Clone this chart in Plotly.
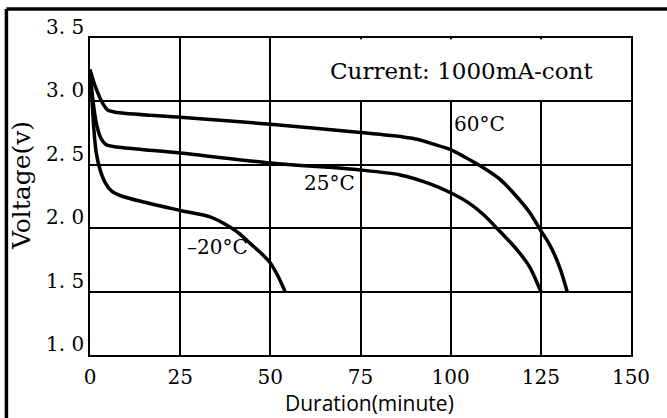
import plotly.graph_objects as go

# ---- data ----
t60 = [0, 1.7, 3.6, 5.0, 6.9, 25, 50, 75, 86.8, 91, 95, 100, 104, 108.3, 113.7, 118.4, 122, 124.8, 127.5, 130.3, 132.3]
v60 = [3.25, 3.10, 2.98, 2.93, 2.915, 2.875, 2.82, 2.755, 2.72, 2.70, 2.665, 2.62, 2.56, 2.49, 2.385, 2.246, 2.12, 1.99, 1.867, 1.686, 1.50]

t25 = [0, 0.8, 1.9, 3.0, 4.4, 7.5, 25, 50, 75, 86, 94.3, 100, 105, 109, 112.8, 118.4, 122, 125]
v25 = [3.25, 3.01, 2.81, 2.71, 2.66, 2.64, 2.593, 2.514, 2.459, 2.42, 2.35, 2.28, 2.20, 2.11, 2.0, 1.83, 1.69, 1.50]

tm20 = [0, 0.55, 1.1, 1.7, 2.8, 4.2, 6.1, 9.1, 25, 33.3, 38.8, 41.6, 44.4, 47.1, 50, 52.1, 54.1]
vm20 = [3.25, 3.01, 2.77, 2.60, 2.46, 2.36, 2.29, 2.25, 2.14, 2.09, 2.01, 1.954, 1.88, 1.812, 1.726, 1.623, 1.50]

x_ticks = [0, 25, 50, 75, 100, 125, 150]
x_tick_text = ["0", "25", "50", "75", "100", "125", "150"]
y_ticks = [1.0, 1.5, 2.0, 2.5, 3.0, 3.5]
y_tick_text = ["1. 0", "1. 5", "2. 0", "2. 5", "3. 0", "3. 5"]

series = [("60°C", t60, v60), ("25°C", t25, v25), ("–20°C", tm20, vm20)]
labels = [("60°C", 100.5, 2.82), ("25°C", 58.8, 2.355), ("–20°C", 26.3, 1.85)]
note = "Current: 1000mA-cont"

SERIF = "DejaVu Serif"

fig = go.Figure()
for name, t, v in series:
    fig.add_trace(go.Scatter(x=t, y=v, mode="lines", name=name,
                             line=dict(color="black", width=3.5, shape="spline", smoothing=0.8)))

# blank out gridlines inside the "Current" box (top row, right part)
fig.add_shape(type="rect", x0=50.4, x1=149.6, y0=3.012, y1=3.49, layer="between",
              fillcolor="white", line=dict(width=0))

# outer frame of the picture (top and left edges)
fig.add_shape(type="line", xref="paper", yref="paper", x0=-0.1545, x1=1.2, y0=1.0915, y1=1.0915,
              line=dict(color="black", width=3.5))
fig.add_shape(type="line", xref="paper", yref="paper", x0=-0.1545, x1=-0.1545, y0=1.0915, y1=-0.3,
              line=dict(color="black", width=3.5))

fig.add_annotation(x=103, y=3.24, text=note, showarrow=False,
                   font=dict(family=SERIF, size=23, color="black"))
for txt, x, y in labels:
    fig.add_annotation(x=x, y=y, text=txt, showarrow=False, xanchor="left",
                       font=dict(family=SERIF, size=20, color="black"))

# y tick labels (sit slightly above their gridlines, as in the reference)
for val, txt in zip(y_ticks, y_tick_text):
    fig.add_annotation(xref="paper", x=0, y=val, text=txt, showarrow=False,
                       xanchor="right", yanchor="bottom", xshift=-4, yshift=-3,
                       font=dict(family=SERIF, size=20, color="black"))

fig.add_annotation(xref="paper", yref="paper", x=0.516, y=-0.152, text="Duration(minute)",
                   xanchor="center", yanchor="middle",
                   showarrow=False, font=dict(family="Open Sans", size=21, color="black"))
fig.add_annotation(xref="paper", yref="paper", x=-0.1275, y=0.533, text="Voltage(v)", textangle=-90,
                   xanchor="center", yanchor="middle",
                   showarrow=False, font=dict(family=SERIF, size=25, color="black"))

fig.update_xaxes(range=[0, 150], tickvals=x_ticks, ticktext=x_tick_text,
                 showgrid=True, gridcolor="black", gridwidth=2,
                 showline=True, linecolor="black", linewidth=2, mirror=True,
                 zeroline=False, ticks="", ticklabelstandoff=3,
                 tickfont=dict(family=SERIF, size=20, color="black"))
fig.update_yaxes(range=[1.0, 3.5], tickvals=y_ticks, showticklabels=False,
                 showgrid=True, gridcolor="black", gridwidth=2,
                 showline=True, linecolor="black", linewidth=2, mirror=True,
                 zeroline=False, ticks="")

fig.update_layout(width=667, height=418, margin=dict(l=90, r=36, t=38, b=63, autoexpand=False),
                  paper_bgcolor="white", plot_bgcolor="white", showlegend=False)

fig.write_html("out.html", config={"displayModeBar": False},
               post_script="document.body.style.margin='0px';document.body.style.overflow='hidden';")
